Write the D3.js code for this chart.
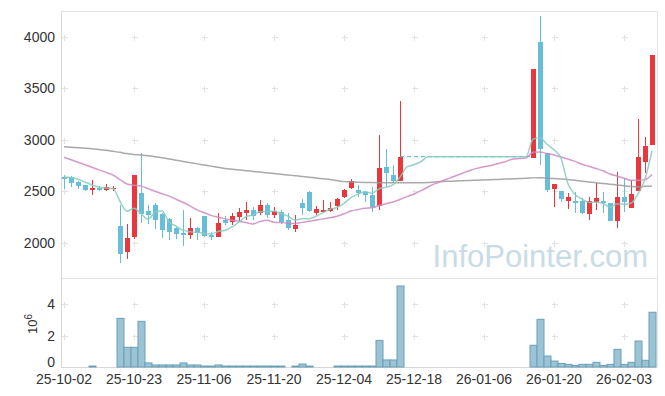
<!DOCTYPE html>
<html>
<head>
<meta charset="utf-8">
<script src="https://cdn.jsdelivr.net/npm/d3@7"></script>
<style>
  body { margin: 0; background: #fff; }
  svg { display: block; font-family: "Liberation Sans", Arial, sans-serif; }
</style>
</head>
<body>
<div id="chart"></div>
<script>
// trading days (Korean market), one per candle slot
const dates = ["25-10-02","25-10-10","25-10-13","25-10-14","25-10-15","25-10-16","25-10-17","25-10-20","25-10-21","25-10-22",
  "25-10-23","25-10-24","25-10-27","25-10-28","25-10-29","25-10-30","25-10-31","25-11-03","25-11-04","25-11-05",
  "25-11-06","25-11-07","25-11-10","25-11-11","25-11-12","25-11-13","25-11-14","25-11-17","25-11-18","25-11-19",
  "25-11-20","25-11-21","25-11-24","25-11-25","25-11-26","25-11-27","25-11-28","25-12-01","25-12-02","25-12-03",
  "25-12-04","25-12-05","25-12-08","25-12-09","25-12-10","25-12-11","25-12-12","25-12-15","25-12-16","25-12-17",
  "25-12-18","25-12-19","25-12-22","25-12-23","25-12-24","25-12-26","25-12-29","25-12-30","26-01-02","26-01-05",
  "26-01-06","26-01-07","26-01-08","26-01-09","26-01-12","26-01-13","26-01-14","26-01-15","26-01-16","26-01-19",
  "26-01-20","26-01-21","26-01-22","26-01-23","26-01-26","26-01-27","26-01-28","26-01-29","26-01-30","26-02-02",
  "26-02-03","26-02-04","26-02-05","26-02-06","26-02-09"];

const gap = Array(18).fill(null); // trading halt, no prices

const openV = [2640,2644,2592,2563,2518,2537,2518,2527,2165,1916,2058,2485,2311,2369,2282,2233,2146,2094,2081,2143,
  2262,2078,2061,2223,2207,2256,2294,2320,2294,2369,2272,2304,2223,2136,2391,2498,2294,2304,2314,2362,
  2450,2537,2515,2498,2463,2359,2735,2660,2605, ...gap,
  2829,3952,2877,2521,2505,2411,2408,2408,2278,2401,2411,2385,2217,2450,2343,2508,2789,2951];
const highV = [2660,2650,2600,2565,2609,2553,2573,2556,2366,2182,2660,2870,2366,2385,2290,2240,2152,2317,2240,2158,
  2265,2110,2288,2265,2288,2337,2395,2353,2417,2390,2353,2320,2288,2272,2424,2505,2359,2417,2395,2434,
  2524,2618,2563,2500,2547,3048,2910,2757,3382, ...gap,
  3687,4204,2877,2573,2505,2488,2498,2434,2450,2580,2498,2385,2692,2628,2611,3201,3032,3825];
const lowV = [2524,2547,2524,2508,2466,2505,2505,2505,1803,1848,2040,2190,2182,2133,2046,2029,2036,1974,2039,2029,
  2060,2029,2061,2175,2175,2207,2223,2223,2272,2240,2240,2185,2130,2110,2272,2300,2272,2288,2300,2320,
  2434,2521,2450,2401,2304,2320,2547,2586,2600, ...gap,
  2829,2757,2498,2347,2395,2330,2294,2282,2223,2320,2294,2217,2143,2304,2343,2508,2677,2951];
const closeV = [2625,2585,2556,2518,2531,2518,2544,2537,1893,2049,2660,2282,2272,2223,2126,2110,2090,2078,2143,2094,
  2068,2058,2197,2197,2262,2304,2320,2265,2369,2272,2311,2207,2143,2175,2337,2314,2327,2320,2337,2424,
  2515,2605,2488,2463,2346,2725,2683,2605,2838, ...gap,
  3687,2911,2515,2573,2430,2443,2391,2294,2411,2434,2385,2217,2450,2401,2476,2832,2942,3825];

// volume, millions of shares
const volumeV = [0,0,0,0,0.06,0,0,0,3.11,1.26,1.26,2.92,0.26,0.13,0.13,0.13,0.13,0.26,0.13,0.13,
  0.06,0.06,0.13,0.06,0.06,0.06,0.06,0.06,0.06,0.06,0.06,0.06,0,0.06,0.19,0.06,0,0,0,0.06,
  0.06,0.06,0.06,0.06,0.06,1.70,0.45,0.45,5.18, ...Array(18).fill(0),
  1.39,3.05,0.70,0.38,0.23,0.17,0.10,0.17,0.17,0.30,0.10,0.17,1.13,0.17,0.30,1.66,0.43,3.50];

// moving averages as drawn
const ma5 = [2640,2636,2618,2592,2563,2542,2533,2530,2405,2308,2337,2284,2231,2297,2313,2203,2164,2125,2109,2103,
  2095,2088,2112,2123,2156,2204,2256,2270,2304,2306,2307,2285,2260,2222,2235,2235,2259,2295,2327,2344,
  2385,2440,2474,2499,2483,2525,2541,2564,2639,2738,2760,2791,2838,2838,2838,2838,2838,2838,2838,2838,
  2838,2838,2838,2838,2838,2838,2838,3008,3022,2958,2905,2823,2574,2470,2426,2394,2395,2383,2348,2379,
  2377,2386,2475,2620,2895];
const ma20 = [2832,2808,2784,2759,2735,2710,2685,2660,2615,2572,2560,2552,2528,2502,2478,2455,2425,2395,2360,2322,
  2294,2268,2250,2234,2220,2209,2198,2185,2208,2220,2202,2198,2192,2189,2200,2210,2222,2234,2244,2260,
  2283,2310,2325,2338,2342,2363,2381,2398,2422,2450,2476,2508,2543,2576,2601,2627,2653,2679,2704,2724,
  2740,2752,2770,2788,2813,2819,2826,2880,2884,2868,2855,2834,2815,2792,2765,2744,2723,2701,2670,2650,
  2629,2610,2610,2615,2665];
const ma120 = [2935,2930,2925,2920,2914,2908,2900,2890,2880,2868,2860,2854,2847,2838,2828,2816,2804,2792,2780,2768,
  2757,2746,2735,2722,2715,2708,2702,2695,2688,2681,2674,2667,2660,2653,2646,2638,2631,2623,2616,2606,
  2596,2593,2590,2588,2586,2585,2585,2585,2585,2585,2585,2585,2587,2592,2596,2599,2602,2604,2607,2610,
  2612,2615,2617,2620,2623,2626,2628,2632,2634,2630,2626,2620,2617,2608,2600,2592,2585,2578,2570,2563,
  2555,2549,2547,2550,2553];

const priceTicks = [2000, 2500, 3000, 3500, 4000];
const volTicks = [0, 2, 4];

const W = 665, H = 396;
const pLeft = 61, pRight = 657, pTop = 11, pMid = 278, pBottom = 367;

const svg = d3.select("#chart").append("svg")
  .attr("width", W).attr("height", H);

const x = d3.scaleLinear().domain([0, dates.length - 1]).range([64, 652]);
const y = d3.scaleLinear().domain([1660, 4252]).range([pMid, pTop]);
const yv = d3.scaleLinear().domain([0, 5.69]).range([pBottom, pMid]);

const upColor = "#e8383d", downColor = "#68bed8";
const gridColor = "#e2e2e2";

// frame
const frame = svg.append("g").attr("stroke", "#e4e4e4").attr("stroke-width", 1).attr("shape-rendering", "crispEdges");
frame.append("line").attr("x1", pLeft).attr("x2", pRight).attr("y1", pTop).attr("y2", pTop);
frame.append("line").attr("x1", pLeft).attr("x2", pRight).attr("y1", pMid).attr("y2", pMid);
frame.append("line").attr("x1", pRight).attr("x2", pRight).attr("y1", pTop).attr("y2", pBottom);
frame.append("line").attr("x1", pLeft).attr("x2", pLeft).attr("y1", pTop).attr("y2", pBottom).attr("stroke", "#d8d8d8");
frame.append("line").attr("x1", pLeft).attr("x2", pRight).attr("y1", pBottom).attr("y2", pBottom).attr("stroke", "#d8d8d8");

// grid crosses
const tickIdx = d3.range(0, dates.length, 10);
const crossPts = [];
tickIdx.forEach(i => {
  priceTicks.forEach(p => crossPts.push([x(i), y(p)]));
  volTicks.filter(v => v > 0).forEach(v => crossPts.push([x(i), yv(v)]));
});
const cross = svg.append("g").attr("stroke", gridColor).attr("stroke-width", 1).attr("shape-rendering", "crispEdges");
crossPts.forEach(([cx, cy]) => {
  cx = Math.round(cx) + 0.5; cy = Math.round(cy) + 0.5;
  cross.append("line").attr("x1", cx - 3).attr("x2", cx + 3).attr("y1", cy).attr("y2", cy);
  cross.append("line").attr("x1", cx).attr("x2", cx).attr("y1", cy - 3).attr("y2", cy + 3);
});

// watermark
svg.append("text")
  .attr("x", 648).attr("y", 267)
  .attr("text-anchor", "end")
  .style("font-size", "31px")
  .style("fill", "#c9dbe5")
  .text("InfoPointer.com");

// y axis labels
svg.append("g").selectAll("text")
  .data(priceTicks).enter().append("text")
  .attr("x", 55).attr("y", d => y(d) + 5)
  .attr("text-anchor", "end")
  .style("font-size", "14px").style("fill", "#333")
  .text(d => d);

// volume labels (the 0 sits a little higher so it clears the date labels)
svg.append("g").selectAll("text")
  .data(volTicks).enter().append("text")
  .attr("x", 55).attr("y", d => d === 0 ? yv(d) : yv(d) + 5)
  .attr("text-anchor", "end")
  .style("font-size", "14px").style("fill", "#333")
  .text(d => d);

const unit = svg.append("text")
  .attr("transform", "translate(37,324) rotate(-90)")
  .attr("text-anchor", "middle")
  .style("font-size", "13px").style("fill", "#333");
unit.append("tspan").text("10");
unit.append("tspan").attr("dy", -5).style("font-size", "10px").text("6");

// x axis labels
svg.append("g").selectAll("text")
  .data(tickIdx).enter().append("text")
  .attr("x", d => x(d)).attr("y", 384)
  .attr("text-anchor", "middle")
  .style("font-size", "14px").style("fill", "#333")
  .text(d => dates[d]);

// volume bars
const bw = x(1) - x(0);
svg.append("g").selectAll("rect")
  .data(volumeV.map((v, i) => ({ v, i })).filter(d => d.v > 0))
  .enter().append("rect")
  .attr("x", d => x(d.i) - bw / 2 + 0.5)
  .attr("width", bw)
  .attr("y", d => yv(d.v))
  .attr("height", d => yv(0) - yv(d.v))
  .style("fill", "#9cc3d4")
  .style("stroke", "#6a9fb8")
  .style("stroke-width", 1);

// candles
const candles = d3.range(dates.length)
  .filter(i => openV[i] != null)
  .map(i => ({ i, o: openV[i], h: highV[i], l: lowV[i], c: closeV[i] }));

const cg = svg.append("g").attr("shape-rendering", "crispEdges");
cg.selectAll("line")
  .data(candles).enter().append("line")
  .attr("x1", d => Math.round(x(d.i)) + 0.5).attr("x2", d => Math.round(x(d.i)) + 0.5)
  .attr("y1", d => y(d.h)).attr("y2", d => y(d.l))
  .style("stroke", d => d.c >= d.o ? upColor : downColor);
cg.selectAll("rect")
  .data(candles).enter().append("rect")
  .attr("x", d => Math.round(x(d.i)) - 2)
  .attr("width", 5)
  .attr("y", d => y(Math.max(d.o, d.c)))
  .attr("height", d => Math.max(1.5, Math.abs(y(d.o) - y(d.c))))
  .style("fill", d => d.c >= d.o ? upColor : downColor);

// halt period: last close carried across
const haltStart = 48, haltEnd = 67;
svg.append("line")
  .attr("x1", x(haltStart)).attr("x2", x(haltEnd))
  .attr("y1", y(closeV[haltStart])).attr("y2", y(closeV[haltStart]))
  .style("stroke", "#5fb0bd").style("stroke-width", 1)
  .style("stroke-dasharray", "4,3");

// moving average lines
const line = d3.line()
  .x((d, i) => x(i))
  .y(d => y(d))
  .curve(d3.curveMonotoneX);

[[ma120, "#9a9a9a"], [ma20, "#cc88c2"], [ma5, "#86cbbf"]].forEach(([s, col]) => {
  svg.append("path")
    .datum(s)
    .attr("d", line)
    .style("fill", "none")
    .style("stroke", col)
    .style("stroke-width", 1.5)
    .style("opacity", 0.85);
});
</script>
</body>
</html>
